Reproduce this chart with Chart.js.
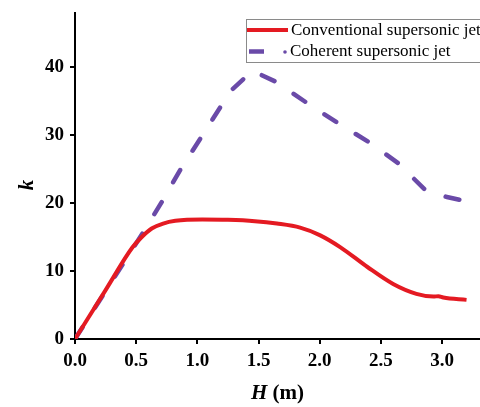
<!DOCTYPE html>
<html>
<head>
<meta charset="utf-8">
<script src="https://cdn.jsdelivr.net/npm/chart.js@4/dist/chart.umd.min.js"></script>
<style>
  body { margin: 0; background: #fff; }
  #wrap { width: 480px; height: 407px; }
</style>
</head>
<body>
<div id="wrap"><canvas id="chart"></canvas></div>
<script>
// Conventional supersonic jet
const convH = [0, 0.25, 0.47, 0.55, 0.63, 0.72, 0.82, 1.04, 1.25, 1.47, 1.65, 1.84, 2.0, 2.17, 2.39, 2.6, 2.79, 2.93, 2.97, 3.01, 3.2];
const convK = [0, 7.2, 13.5, 15.1, 16.3, 17.0, 17.4, 17.6, 17.55, 17.35, 17.0, 16.4, 15.3, 13.5, 10.6, 8.1, 6.65, 6.25, 6.3, 6.1, 5.76];

// Coherent supersonic jet
const cohH = [0, 0.55, 0.71, 0.86, 0.96, 1.19, 1.27, 1.45, 1.65, 1.9, 2.14, 2.41, 2.64, 2.86, 3.04, 3.17];
const cohK = [0, 15.5, 20.2, 24.9, 27.7, 34.2, 36.5, 39.5, 37.8, 34.7, 31.9, 28.9, 25.9, 22.0, 20.9, 20.4];

const xTicks = [0, 0.5, 1.0, 1.5, 2.0, 2.5, 3.0];
const yTicks = [0, 10, 20, 30, 40];

const seriesLabels = ['Conventional supersonic jet', 'Coherent supersonic jet'];
const red = '#e41a22';
const purple = '#6a4aa8';

function toPoints(xs, ys) {
    return xs.map((x, i) => ({ x: x, y: ys[i] }));
}

const serif = '"Liberation Serif", "Times New Roman", serif';

// legend box in the top right corner
const legendPlugin = {
    id: 'boxLegend',
    afterDraw(chart) {
        const ctx = chart.ctx;
        ctx.save();
        ctx.strokeStyle = '#8a8a8a';
        ctx.lineWidth = 1;
        ctx.strokeRect(246.5, 19.5, 240, 43);

        ctx.font = '17px ' + serif;
        ctx.fillStyle = '#000';
        ctx.textBaseline = 'middle';

        // row 1
        ctx.strokeStyle = red;
        ctx.lineWidth = 4;
        ctx.beginPath();
        ctx.moveTo(247, 30);
        ctx.lineTo(288, 30);
        ctx.stroke();
        ctx.fillText(seriesLabels[0], 291, 31);

        // row 2
        ctx.strokeStyle = purple;
        ctx.lineWidth = 4.5;
        ctx.beginPath();
        ctx.moveTo(249, 51.5);
        ctx.lineTo(264, 51.5);
        ctx.stroke();
        ctx.fillStyle = purple;
        ctx.beginPath();
        ctx.arc(285, 52, 1.8, 0, Math.PI * 2);
        ctx.fill();
        ctx.fillStyle = '#000';
        ctx.fillText(seriesLabels[1], 290, 52);
        ctx.restore();
    }
};

// axis titles with italic variable names
const titlePlugin = {
    id: 'axisTitles',
    afterDraw(chart) {
        const ctx = chart.ctx;
        const area = chart.chartArea;
        ctx.save();
        ctx.fillStyle = '#000';
        ctx.textBaseline = 'alphabetic';

        const italic = 'italic bold 21px ' + serif;
        const bold = 'bold 21px ' + serif;
        ctx.font = italic;
        const wH = ctx.measureText('H').width;
        ctx.font = bold;
        const wM = ctx.measureText(' (m)').width;
        const cx = (area.left + area.right) / 2;
        let x = cx - (wH + wM) / 2;
        ctx.font = italic;
        ctx.fillText('H', x, 399);
        ctx.font = bold;
        ctx.fillText(' (m)', x + wH, 399);

        ctx.translate(33, 185);
        ctx.rotate(-Math.PI / 2);
        ctx.font = italic;
        ctx.textAlign = 'center';
        ctx.fillText('k', 0, 0);
        ctx.restore();
    }
};

new Chart(document.getElementById('chart'), {
    type: 'line',
    data: {
        datasets: [{
            label: seriesLabels[0],
            data: toPoints(convH, convK),
            borderColor: red,
            borderWidth: 4,
            pointRadius: 0,
            tension: 0.4,
            cubicInterpolationMode: 'monotone',
            fill: false
        }, {
            label: seriesLabels[1],
            data: toPoints(cohH, cohK),
            borderColor: purple,
            borderWidth: 4.5,
            borderDash: [14, 23],
            borderCapStyle: 'round',
            pointRadius: 0,
            tension: 0,
            fill: false
        }]
    },
    options: {
        responsive: true,
        maintainAspectRatio: false,
        animation: false,
        layout: { padding: { top: 13, right: 0, left: 0, bottom: 0 } },
        plugins: {
            legend: { display: false },
            tooltip: { enabled: false }
        },
        scales: {
            x: {
                type: 'linear',
                min: 0,
                max: 3.31,
                afterBuildTicks: s => { s.ticks = xTicks.map(v => ({ value: v })); },
                afterFit: s => { s.height = 68; },
                grid: { drawOnChartArea: false, drawTicks: true, tickLength: 5, color: '#000', lineWidth: 2 },
                border: { color: '#000', width: 2 },
                ticks: {
                    color: '#000',
                    padding: 6,
                    maxRotation: 0,
                    font: { family: serif, size: 19, weight: 'bold' },
                    callback: v => v.toFixed(1)
                }
            },
            y: {
                min: 0,
                max: 48,
                afterBuildTicks: s => { s.ticks = yTicks.map(v => ({ value: v })); },
                afterFit: s => { s.width = 75; s.paddingTop = 0; s.paddingBottom = 0; },
                grid: { drawOnChartArea: false, drawTicks: true, tickLength: 5, color: '#000', lineWidth: 2 },
                border: { color: '#000', width: 2 },
                ticks: {
                    color: '#000',
                    padding: 6,
                    font: { family: serif, size: 19, weight: 'bold' }
                }
            }
        }
    },
    plugins: [legendPlugin, titlePlugin]
});
</script>
</body>
</html>
